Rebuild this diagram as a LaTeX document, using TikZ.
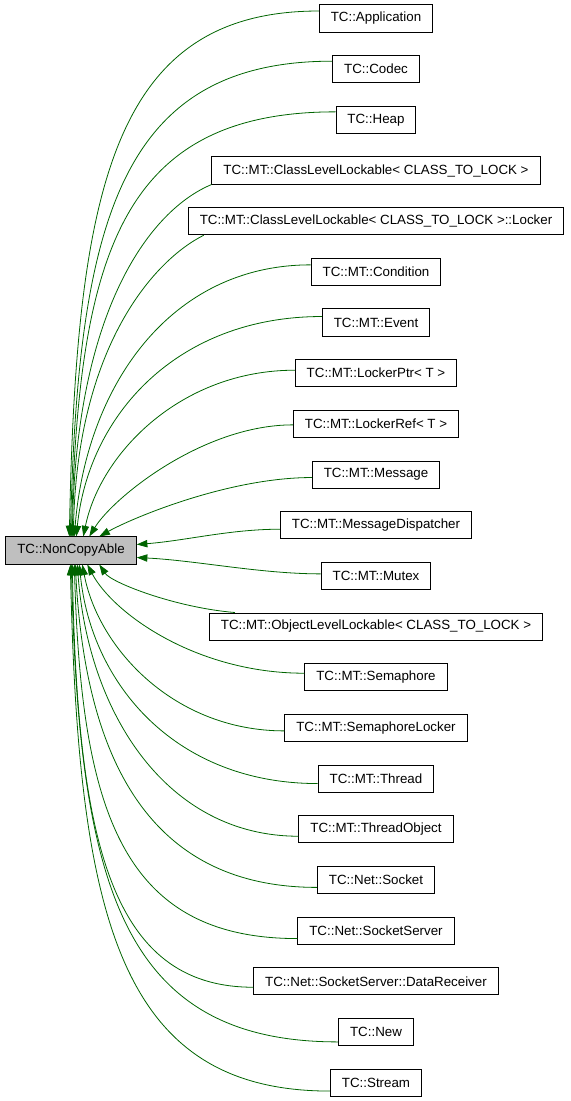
\documentclass[tikz,border=0pt]{standalone}
\usepackage{fontspec}
\setmainfont{Liberation Sans}
\usetikzlibrary{arrows.meta,calc}
\definecolor{inhc}{RGB}{0,100,0}
\definecolor{basec}{RGB}{191,191,191}

\begin{document}
\begin{tikzpicture}[x=0.75pt,y=-0.75pt,font=\fontsize{10}{12}\selectfont,
  cls/.style={draw,line width=0.75pt,minimum height=20.3pt,inner xsep=8.6pt,inner ysep=2pt},
  basecls/.style={cls,fill=basec},
  inh/.style={draw=inhc,line width=0.6pt,-{Triangle[length=8pt,width=5.5pt]}}]
\useasboundingbox (0,0) rectangle (571,1101);
% ---- base class ----
\node[basecls] (nca) at (71,550.5) {TC::NonCopyAble};
% ---- derived classes, one row each ----
\foreach \nm/\txt [count=\i from 0] in {
  app/TC::Application, codec/TC::Codec, heap/TC::Heap,
  cll/TC::MT::ClassLevelLockable< CLASS\_TO\_LOCK >,
  cllock/TC::MT::ClassLevelLockable< CLASS\_TO\_LOCK >::Locker,
  cond/TC::MT::Condition, event/TC::MT::Event, lptr/TC::MT::LockerPtr< T >,
  lref/TC::MT::LockerRef< T >, msg/TC::MT::Message, msgdisp/TC::MT::MessageDispatcher,
  mutex/TC::MT::Mutex, oll/TC::MT::ObjectLevelLockable< CLASS\_TO\_LOCK >,
  sem/TC::MT::Semaphore, semlock/TC::MT::SemaphoreLocker, thread/TC::MT::Thread,
  thobj/TC::MT::ThreadObject, socket/TC::Net::Socket, sserver/TC::Net::SocketServer,
  drecv/TC::Net::SocketServer::DataReceiver, new/TC::New, stream/TC::Stream}
  \node[cls] (\nm) at (376,18.5+50.67*\i) {\txt};
% ---- inheritance edges into the top side ----
\draw[inh] ($(app.west)+(0,-7.5)$) .. controls +(-205,0) and +(7,-350) .. ($(nca.north west)+(64,0)$);
\draw[inh] ($(codec.west)+(0,-8)$) .. controls +(-212,0) and +(8,-315) .. ($(nca.north west)+(65,0)$);
\draw[inh] ($(heap.west)+(0,-8)$) .. controls +(-214,0) and +(8,-282) .. ($(nca.north west)+(66,0)$);
\draw[inh] (cll.south west) .. controls +(-60,25) and +(4,-230) .. ($(nca.north west)+(67,0)$);
\draw[inh] ($(cllock.south west)+(16,0)$) .. controls +(-50,25) and +(4,-190) .. ($(nca.north west)+(68,0)$);
\draw[inh] ($(cond.west)+(0,-7)$) .. controls +(-141,0) and +(12,-150) .. ($(nca.north west)+(69,0)$);
\draw[inh] ($(event.west)+(0,-6)$) .. controls +(-145,0) and +(12,-121) .. ($(nca.north west)+(71,0)$);
\draw[inh] ($(lptr.west)+(0,-3)$) .. controls +(-114,0) and +(17,-83) .. ($(nca.north west)+(78,0)$);
\draw[inh] ($(lref.west)+(0,1)$) .. controls +(-90,0) and +(24,-39) .. ($(nca.north west)+(84,0)$);
\draw[inh] ($(msg.west)+(0,3)$) .. controls +(-84,0) and +(32,-18) .. ($(nca.north west)+(94,0)$);
% ---- edges into the right side ----
\draw[inh] ($(msgdisp.west)+(0,4)$) .. controls +(-50,0) and +(50,-4) .. ($(nca.east)+(0,-6)$);
\draw[inh] ($(mutex.west)+(0,-2)$) .. controls +(-60,0) and +(60,3) .. ($(nca.east)+(0,7)$);
% ---- edges into the bottom side ----
\draw[inh] ($(oll.north west)+(26,0)$) .. controls +(-60,-5) and +(12,18) .. ($(nca.south west)+(94,0)$);
\draw[inh] ($(sem.west)+(0,-4)$) .. controls +(-108,0) and +(26,49) .. ($(nca.south west)+(82,0)$);
\draw[inh] ($(semlock.west)+(0,3)$) .. controls +(-110,0) and +(16,84) .. ($(nca.south west)+(77,0)$);
\draw[inh] ($(thread.west)+(0,5)$) .. controls +(-142,0) and +(12,120) .. ($(nca.south west)+(74,0)$);
\draw[inh] ($(thobj.west)+(0,7)$) .. controls +(-131,0) and +(11,150) .. ($(nca.south west)+(72,0)$);
\draw[inh] ($(socket.west)+(0,7.5)$) .. controls +(-168,0) and +(10,194) .. ($(nca.south west)+(70,0)$);
\draw[inh] ($(sserver.west)+(0,8)$) .. controls +(-177,0) and +(7,243) .. ($(nca.south west)+(69,0)$);
\draw[inh] ($(drecv.west)+(0,6)$) .. controls +(-143,0) and +(5,275) .. ($(nca.south west)+(67,0)$);
\draw[inh] ($(new.west)+(0,10)$) .. controls +(-218,0) and +(8,318) .. ($(nca.south west)+(66,0)$);
\draw[inh] ($(stream.west)+(0,8.5)$) .. controls +(-212,0) and +(8,350) .. ($(nca.south west)+(65,0)$);
\end{tikzpicture}
\end{document}
